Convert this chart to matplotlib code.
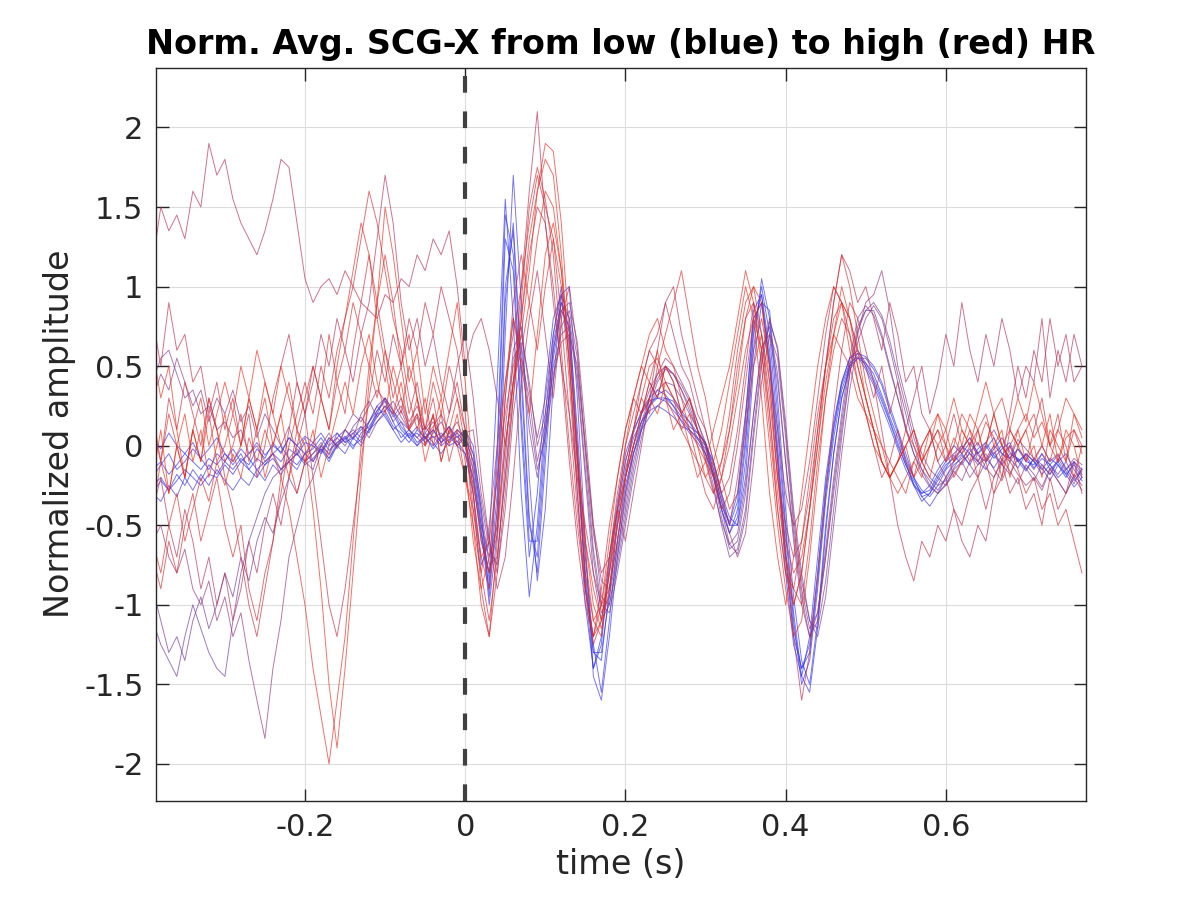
import numpy as np
import matplotlib
matplotlib.use("Agg")
import matplotlib.pyplot as plt
from matplotlib.colors import LinearSegmentedColormap

# time grid (s), 10 ms steps
t = np.round(np.arange(-0.39, 0.775, 0.01), 2)

# traces ordered from low HR (blue) to high HR (red)
b1 = [-0.15,-0.10,-0.18,-0.12,-0.05,-0.10,-0.15,-0.08,-0.12,-0.05,
      -0.10,-0.02,-0.08,-0.15,-0.10,-0.05,0.00,-0.08,-0.12,-0.05,
      -0.02,0.05,-0.03,0.02,0.06,0.00,0.04,0.10,0.18,0.25,
      0.20,0.10,0.05,0.08,0.02,0.06,0.00,0.04,0.08,0.02,
      -0.15,-0.55,-0.90,-0.10,1.30,1.10,0.10,-0.70,-0.30,0.35,
      0.80,0.95,0.55,-0.30,-1.00,-1.40,-1.20,-0.70,-0.35,-0.05,
      0.10,0.20,0.28,0.30,0.30,0.25,0.18,0.12,0.08,0.02,
      -0.15,-0.35,-0.50,-0.35,0.15,0.85,0.95,0.50,-0.10,-0.80,
      -1.25,-1.45,-1.20,-0.70,-0.20,0.15,0.40,0.55,0.58,0.50,
      0.40,0.28,0.15,0.00,-0.12,-0.22,-0.30,-0.28,-0.18,-0.10,
      -0.05,0.00,-0.05,-0.10,-0.02,0.05,-0.05,-0.08,-0.02,-0.10,
      -0.12,-0.05,-0.15,-0.10,-0.18,-0.12,-0.20]
b2 = [-0.25,-0.20,-0.28,-0.22,-0.15,-0.20,-0.25,-0.18,-0.20,-0.12,
      -0.18,-0.10,-0.15,-0.08,-0.12,-0.05,-0.10,-0.02,-0.06,0.02,
      0.00,-0.05,0.03,0.08,0.02,0.05,0.10,0.15,0.22,0.28,
      0.15,0.05,0.10,0.02,0.06,-0.02,0.05,0.00,0.03,-0.05,
      -0.30,-0.75,-0.60,0.40,1.55,0.80,-0.30,-0.95,-0.50,0.20,
      0.70,1.00,0.70,-0.10,-0.85,-1.30,-1.35,-0.90,-0.45,-0.15,
      0.05,0.15,0.22,0.25,0.30,0.28,0.20,0.15,0.05,-0.05,
      -0.20,-0.40,-0.55,-0.45,0.00,0.70,1.00,0.70,0.10,-0.55,
      -1.10,-1.50,-1.35,-0.90,-0.35,0.05,0.35,0.50,0.55,0.52,
      0.45,0.32,0.18,0.05,-0.10,-0.25,-0.35,-0.30,-0.20,-0.12,
      -0.08,-0.02,0.05,-0.05,0.00,-0.08,-0.02,0.02,-0.10,-0.05,
      -0.10,-0.15,-0.08,-0.12,-0.20,-0.10,-0.15]
b3 = [0.05,-0.02,0.08,0.00,-0.05,0.02,-0.08,-0.02,0.05,-0.05,
      -0.12,-0.05,-0.15,-0.20,-0.12,-0.08,-0.15,-0.10,-0.05,-0.12,
      -0.08,-0.02,-0.10,0.00,0.05,-0.02,0.08,0.12,0.20,0.22,
      0.12,0.08,0.02,0.10,0.05,0.00,0.06,0.12,0.05,0.10,
      0.00,-0.40,-0.95,-0.40,0.90,1.40,0.50,-0.45,-0.80,-0.10,
      0.55,0.85,0.75,0.10,-0.70,-1.25,-1.55,-1.10,-0.60,-0.25,
      -0.05,0.10,0.18,0.25,0.22,0.18,0.12,0.10,0.05,0.00,
      -0.10,-0.30,-0.45,-0.50,-0.20,0.50,0.90,0.85,0.30,-0.40,
      -0.95,-1.35,-1.50,-1.10,-0.50,-0.05,0.30,0.48,0.55,0.55,
      0.48,0.38,0.22,0.08,-0.08,-0.20,-0.28,-0.32,-0.25,-0.15,
      -0.10,-0.05,-0.12,-0.02,0.02,-0.06,-0.12,-0.05,-0.08,-0.15,
      -0.08,-0.12,-0.18,-0.10,-0.05,-0.15,-0.22]
b4 = [-0.20,-0.12,-0.05,-0.15,-0.10,-0.02,-0.08,-0.15,-0.05,-0.10,
      -0.02,-0.10,-0.05,0.02,-0.06,0.00,-0.04,0.05,0.00,-0.05,
      0.02,-0.04,0.05,0.00,0.04,0.08,0.02,0.15,0.25,0.18,
      0.10,0.02,0.08,0.00,0.05,0.10,0.02,0.06,0.00,-0.05,
      -0.20,-0.60,-0.80,0.00,1.45,1.20,0.20,-0.60,-0.60,0.10,
      0.60,0.90,0.80,0.00,-0.90,-1.40,-1.25,-0.75,-0.40,-0.10,
      0.08,0.22,0.30,0.35,0.32,0.25,0.15,0.08,0.02,-0.05,
      -0.18,-0.38,-0.48,-0.30,0.20,0.80,0.90,0.55,-0.05,-0.70,
      -1.20,-1.40,-1.30,-0.85,-0.30,0.10,0.38,0.52,0.56,0.48,
      0.38,0.25,0.12,-0.02,-0.15,-0.25,-0.30,-0.25,-0.15,-0.08,
      0.00,-0.05,0.02,-0.06,-0.10,-0.02,0.05,-0.04,-0.10,-0.06,
      -0.14,-0.08,-0.12,-0.20,-0.15,-0.10,-0.18]
b5 = [-0.30,-0.22,-0.28,-0.18,-0.25,-0.15,-0.22,-0.12,-0.18,-0.10,
      -0.15,-0.08,-0.12,-0.02,-0.08,0.02,-0.05,0.05,0.00,0.06,
      0.02,0.08,0.00,0.05,0.10,0.04,0.12,0.08,0.20,0.30,
      0.22,0.12,0.06,0.12,0.04,0.10,0.02,0.08,0.00,0.05,
      -0.10,-0.50,-1.00,-0.55,0.70,1.70,0.90,-0.20,-0.85,-0.40,
      0.40,0.95,1.00,0.30,-0.60,-1.45,-1.60,-1.20,-0.70,-0.30,
      -0.05,0.12,0.25,0.32,0.35,0.30,0.22,0.15,0.08,0.02,
      -0.12,-0.32,-0.50,-0.50,-0.10,0.60,1.05,0.80,0.20,-0.50,
      -1.05,-1.45,-1.55,-1.15,-0.55,-0.05,0.30,0.50,0.58,0.56,
      0.50,0.40,0.25,0.10,-0.05,-0.20,-0.32,-0.38,-0.30,-0.20,
      -0.12,-0.08,-0.02,-0.10,-0.15,-0.05,0.00,-0.08,-0.14,-0.05,
      -0.10,-0.18,-0.12,-0.06,-0.14,-0.22,-0.16]
b6 = [-0.30,-0.35,-0.25,-0.32,-0.20,-0.28,-0.18,-0.25,-0.15,-0.22,
      -0.28,-0.20,-0.25,-0.15,-0.22,-0.12,-0.18,-0.10,-0.15,-0.05,
      -0.10,-0.02,-0.08,0.00,-0.05,0.05,0.00,0.10,0.15,0.20,
      0.10,0.15,0.05,0.00,0.08,0.02,-0.05,0.03,0.10,0.05,
      -0.05,-0.45,-0.85,-0.30,1.00,1.35,0.40,-0.50,-0.70,0.00,
      0.65,0.90,0.65,-0.05,-0.80,-1.30,-1.30,-0.95,-0.50,-0.20,
      0.00,0.15,0.25,0.30,0.28,0.22,0.16,0.10,0.04,-0.02,
      -0.18,-0.40,-0.55,-0.40,0.05,0.75,0.95,0.60,0.00,-0.65,
      -1.15,-1.40,-1.25,-0.80,-0.25,0.12,0.40,0.55,0.60,0.52,
      0.42,0.30,0.16,0.02,-0.12,-0.24,-0.32,-0.30,-0.22,-0.14,
      -0.06,-0.12,-0.04,0.02,-0.08,-0.14,-0.06,0.00,-0.10,-0.16,
      -0.08,-0.14,-0.22,-0.12,-0.18,-0.26,-0.20]
p1 = [-1.10,-1.25,-1.35,-1.45,-1.20,-1.00,-1.15,-1.30,-1.40,-1.45,
      -1.10,-0.80,-0.60,-0.45,-0.30,-0.20,-0.15,-0.10,-0.05,-0.10,
      -0.05,0.00,-0.08,0.02,0.05,0.10,0.05,0.15,0.25,0.30,
      0.22,0.15,0.10,0.05,0.12,0.05,0.08,0.02,0.06,0.00,
      -0.20,-0.50,-0.70,-0.50,0.30,0.80,0.60,0.10,-0.20,0.10,
      0.50,0.70,0.75,0.40,-0.20,-0.80,-1.10,-1.00,-0.70,-0.40,
      -0.10,0.10,0.25,0.35,0.40,0.38,0.30,0.20,0.10,0.00,
      -0.20,-0.45,-0.65,-0.60,-0.30,0.20,0.60,0.75,0.45,-0.10,
      -0.60,-1.00,-1.20,-1.10,-0.70,-0.25,0.15,0.50,0.75,0.85,
      0.85,0.70,0.50,0.30,0.10,-0.05,-0.15,-0.25,-0.30,-0.25,
      -0.15,-0.10,-0.05,-0.12,-0.08,0.00,-0.05,-0.10,-0.02,-0.08,
      -0.15,-0.05,-0.12,-0.18,-0.10,-0.20,-0.15]
p2 = [0.40,0.55,0.60,0.45,0.30,0.35,0.20,0.25,0.10,0.15,
      0.05,0.10,-0.05,0.00,-0.10,-0.05,-0.15,-0.08,-0.02,-0.10,
      -0.05,0.02,-0.06,0.05,0.00,0.08,0.12,0.05,0.15,0.22,
      0.28,0.18,0.10,0.05,0.00,0.08,0.15,0.05,0.10,0.05,
      -0.10,-0.40,-0.75,-0.70,-0.20,0.40,0.70,0.40,0.00,0.20,
      0.60,0.85,0.90,0.65,0.10,-0.50,-0.95,-1.00,-0.75,-0.45,
      -0.15,0.10,0.30,0.45,0.50,0.45,0.35,0.25,0.10,-0.05,
      -0.25,-0.50,-0.70,-0.65,-0.40,0.10,0.55,0.80,0.60,0.10,
      -0.45,-0.85,-1.10,-1.20,-0.95,-0.50,-0.05,0.35,0.65,0.80,
      0.88,0.80,0.62,0.40,0.20,0.00,-0.15,-0.22,-0.28,-0.20,
      -0.10,-0.02,0.05,-0.05,0.02,0.10,0.00,-0.08,0.04,-0.02,
      -0.08,0.00,-0.10,-0.05,-0.15,-0.08,-0.12]
p3 = [-0.60,-0.50,-0.70,-0.80,-0.65,-0.90,-1.00,-0.85,-1.10,-0.95,
      -1.20,-1.05,-1.35,-1.60,-1.84,-1.40,-1.10,-0.70,-0.50,-0.30,
      -0.20,-0.05,0.05,0.00,0.10,0.20,0.15,0.25,0.35,0.28,
      0.20,0.30,0.15,0.25,0.10,0.18,0.05,0.12,0.00,0.08,
      0.10,-0.30,-0.60,-0.80,-0.40,0.20,0.55,0.30,-0.10,0.15,
      0.45,0.65,0.70,0.50,0.00,-0.55,-0.85,-0.90,-0.60,-0.30,
      0.00,0.20,0.35,0.45,0.55,0.50,0.40,0.30,0.15,0.00,
      -0.15,-0.35,-0.55,-0.70,-0.55,-0.10,0.40,0.70,0.55,0.05,
      -0.50,-0.90,-1.15,-1.05,-0.70,-0.30,0.10,0.45,0.70,0.90,
      0.95,1.10,0.85,0.50,0.30,0.10,-0.05,-0.15,-0.20,-0.25,
      -0.18,-0.10,-0.20,-0.12,-0.05,-0.15,-0.22,-0.10,-0.18,-0.25,
      -0.20,-0.28,-0.15,-0.22,-0.30,-0.18,-0.25]
p4 = [-0.90,-1.10,-1.30,-1.20,-1.35,-1.10,-0.95,-1.15,-1.00,-0.80,
      -0.95,-0.70,-0.85,-0.60,-0.45,-0.55,-0.35,-0.20,-0.30,-0.10,
      -0.15,0.00,-0.05,0.08,0.02,0.12,0.18,0.10,0.22,0.30,
      0.18,0.25,0.12,0.20,0.08,0.15,0.05,0.12,0.02,0.10,
      -0.05,-0.35,-0.65,-0.75,-0.10,0.55,0.65,0.20,-0.15,0.05,
      0.40,0.75,0.85,0.55,-0.05,-0.65,-1.00,-1.05,-0.80,-0.50,
      -0.20,0.05,0.25,0.40,0.48,0.45,0.38,0.28,0.15,0.02,
      -0.18,-0.40,-0.62,-0.68,-0.45,0.05,0.50,0.78,0.62,0.15,
      -0.40,-0.80,-1.10,-1.15,-0.85,-0.40,0.05,0.45,0.72,0.85,
      0.90,0.82,0.66,0.45,0.25,0.05,-0.10,-0.20,-0.25,-0.22,
      -0.14,-0.06,-0.12,-0.20,-0.10,-0.04,-0.12,-0.18,-0.08,-0.14,
      -0.22,-0.12,-0.18,-0.08,-0.16,-0.24,-0.14]
p5 = [0.30,0.45,0.35,0.55,0.40,0.25,0.35,0.15,0.30,0.20,
      0.35,0.15,0.25,0.05,0.20,0.10,0.00,0.12,-0.05,0.05,
      -0.10,0.00,0.08,-0.02,0.10,0.05,0.20,0.28,0.18,0.25,
      0.15,0.22,0.10,0.18,0.05,0.12,0.20,0.08,0.15,0.02,
      -0.25,-0.55,-0.80,-0.55,0.10,0.60,0.75,0.35,0.05,0.30,
      0.70,0.95,0.80,0.45,-0.15,-0.70,-1.05,-0.95,-0.65,-0.35,
      -0.05,0.15,0.30,0.42,0.50,0.45,0.35,0.22,0.10,-0.08,
      -0.28,-0.48,-0.62,-0.55,-0.25,0.20,0.62,0.70,0.40,-0.10,
      -0.55,-0.95,-1.20,-1.05,-0.65,-0.20,0.20,0.55,0.80,0.88,
      0.82,0.68,0.48,0.30,0.12,-0.05,-0.18,-0.26,-0.30,-0.24,
      -0.16,-0.22,-0.10,-0.04,-0.14,-0.20,-0.08,-0.16,-0.24,-0.12,
      -0.18,-0.26,-0.14,-0.22,-0.30,-0.20,-0.28]
r1 = [1.15,1.50,1.35,1.45,1.30,1.60,1.50,1.90,1.70,1.80,
      1.55,1.40,1.30,1.20,1.35,1.55,1.80,1.75,1.40,1.05,
      0.90,1.00,1.05,0.95,1.10,1.00,0.90,0.85,0.80,0.95,
      0.90,1.05,1.00,1.20,1.10,1.30,1.20,1.35,1.00,0.50,
      0.70,0.80,0.60,0.30,0.00,0.40,1.00,1.60,2.10,1.40,
      0.90,0.50,0.20,-0.20,-0.50,-0.80,-1.00,-0.90,-0.60,-0.20,
      0.10,0.40,0.60,0.70,0.90,1.00,0.70,0.50,0.30,0.10,
      -0.10,-0.30,-0.20,0.10,0.50,0.90,0.70,0.30,-0.20,-0.50,
      -0.70,-0.60,-0.30,0.10,0.50,0.90,1.20,1.10,0.90,1.00,
      0.80,0.60,0.90,0.70,0.40,0.50,0.20,0.10,-0.10,-0.20,
      -0.40,-0.60,-0.70,-0.50,-0.60,-0.30,-0.10,0.20,0.50,0.30,
      0.60,0.40,0.80,0.50,0.70,0.40,0.50]
r2 = [-0.60,-0.80,-0.50,-0.30,-0.60,-0.40,-0.20,-0.35,-0.10,-0.25,
      -0.05,-0.20,0.05,-0.10,0.10,-0.05,-0.20,-0.40,-0.70,-1.00,
      -1.40,-1.70,-2.00,-1.60,-1.20,-0.60,0.00,0.50,0.90,1.20,
      0.90,0.50,0.70,0.30,0.10,0.40,0.20,-0.10,0.10,-0.20,
      -0.40,-0.70,-0.60,-0.20,0.20,0.50,0.70,1.10,1.60,1.90,
      1.85,1.40,0.70,-0.10,-0.70,-1.10,-1.20,-0.80,-0.40,-0.10,
      0.10,0.30,0.50,0.55,0.40,0.30,0.20,0.30,0.10,-0.10,
      -0.30,-0.20,0.00,0.30,0.60,0.80,0.60,0.20,-0.40,-0.80,
      -0.90,-0.60,-0.20,0.20,0.50,0.70,0.60,0.50,0.30,0.20,
      0.00,-0.10,-0.20,-0.30,-0.20,-0.10,0.00,0.10,0.00,-0.10,
      0.05,-0.05,0.10,0.00,0.15,0.05,-0.10,0.00,0.10,0.20,
      0.05,0.15,0.00,-0.10,0.05,0.10,-0.05]
r3 = [0.60,0.30,0.50,0.10,-0.20,0.10,0.30,0.00,0.20,0.40,
      0.20,0.50,0.30,0.60,0.40,0.20,0.50,0.30,0.10,0.00,
      -0.40,-0.90,-1.50,-1.90,-1.40,-0.80,-0.20,0.40,0.90,1.50,
      1.20,0.80,0.40,0.60,0.20,0.50,0.30,0.60,0.90,0.40,
      -0.20,-0.60,-0.80,-0.50,0.00,0.40,0.80,1.30,1.60,1.80,
      1.70,1.20,0.50,-0.20,-0.80,-1.10,-1.00,-0.60,-0.20,0.10,
      0.30,0.50,0.70,0.80,0.60,0.50,0.30,0.10,0.00,-0.20,
      -0.10,0.10,0.40,0.70,1.00,0.80,0.30,-0.30,-0.70,-1.00,
      -0.70,-0.30,0.10,0.50,0.80,1.00,0.90,0.60,0.40,0.20,
      0.10,-0.10,-0.20,-0.10,0.00,0.10,-0.10,0.00,0.20,0.10,
      0.30,0.10,0.00,0.20,0.40,0.20,0.00,0.10,0.30,0.15,
      0.40,0.20,0.00,0.10,0.30,0.20,0.05]
r4 = [-0.70,-0.90,-0.60,-0.80,-0.50,-0.30,-0.60,-0.40,-0.20,-0.50,
      -0.70,-0.50,-0.90,-1.10,-0.80,-0.60,-0.30,0.00,0.20,0.40,
      0.20,0.50,0.30,0.60,0.80,1.00,1.30,1.60,1.40,1.10,
      0.80,0.60,0.30,0.10,0.30,0.00,0.20,0.50,0.30,0.10,
      -0.50,-0.80,-1.10,-0.70,-0.20,0.30,0.90,1.50,1.75,1.55,
      1.20,0.60,0.00,-0.50,-0.90,-1.20,-1.00,-0.70,-0.30,0.00,
      0.20,0.40,0.60,0.50,0.30,0.20,0.10,0.00,-0.10,-0.20,
      -0.30,-0.10,0.20,0.60,0.90,1.00,0.70,0.20,-0.30,-0.70,
      -0.90,-1.00,-0.60,-0.10,0.30,0.60,0.80,0.70,0.50,0.30,
      0.10,-0.10,-0.20,-0.10,0.00,-0.20,-0.10,0.00,0.10,0.00,
      -0.20,-0.10,0.00,0.10,-0.10,-0.30,-0.20,0.00,-0.15,-0.30,
      -0.20,-0.40,-0.30,-0.50,-0.40,-0.60,-0.80]
r5 = [0.10,-0.10,0.20,0.00,-0.20,0.10,-0.10,0.30,0.10,-0.10,
      0.00,0.20,-0.10,0.10,0.30,0.00,0.20,0.40,0.10,0.30,
      0.50,0.30,0.70,0.40,0.60,0.90,0.70,0.50,0.30,0.60,
      0.40,0.20,0.50,0.30,0.00,0.20,-0.10,0.10,0.30,0.00,
      -0.30,-0.70,-0.90,-0.40,0.30,0.90,1.20,0.90,0.60,1.00,
      1.30,1.00,0.40,-0.30,-0.90,-1.25,-1.10,-0.70,-0.40,-0.20,
      0.10,0.30,0.20,0.50,0.70,0.90,1.10,0.80,0.50,0.30,
      0.00,-0.20,-0.40,-0.30,0.10,0.50,0.70,0.40,-0.20,-0.60,
      -0.80,-0.70,-0.40,0.00,0.50,0.90,1.20,1.00,0.70,0.40,
      0.20,0.00,-0.10,-0.20,-0.30,-0.10,-0.20,0.00,0.10,-0.10,
      0.00,0.20,0.10,-0.10,0.00,0.20,0.30,0.10,0.00,0.10,
      0.20,0.00,-0.10,0.10,0.00,-0.20,0.00]
r6 = [0.80,0.50,0.90,0.60,0.70,0.40,0.50,0.20,0.40,0.10,
      0.30,0.00,0.20,-0.20,0.00,0.30,0.50,0.70,0.40,0.20,
      -0.20,-0.60,-1.00,-1.20,-0.90,-0.50,-0.10,0.30,0.60,0.40,
      0.70,0.50,0.80,0.60,0.90,0.70,1.00,0.80,0.60,0.20,
      -0.30,-0.90,-1.20,-0.80,-0.30,0.30,0.80,1.20,1.50,1.40,
      1.00,0.50,-0.10,-0.60,-1.00,-1.20,-0.90,-0.50,-0.20,0.10,
      0.30,0.20,0.40,0.30,0.50,0.40,0.20,0.30,0.10,0.00,
      -0.20,-0.40,-0.30,0.00,0.40,0.80,0.90,0.50,-0.10,-0.70,
      -1.20,-1.60,-1.30,-0.80,-0.30,0.20,0.60,0.90,0.80,0.60,
      0.40,0.10,-0.20,-0.50,-0.70,-0.85,-0.60,-0.70,-0.50,-0.60,
      -0.40,-0.50,-0.30,-0.20,-0.40,-0.20,-0.10,-0.30,-0.20,-0.40,
      -0.30,-0.50,-0.20,-0.40,-0.30,-0.10,-0.30]
r7 = [-0.20,0.10,-0.30,0.00,0.20,-0.10,0.10,-0.20,0.00,0.20,
      -0.10,0.00,0.30,0.10,-0.20,0.00,0.20,-0.10,-0.30,-0.10,
      0.10,-0.20,0.00,0.20,0.40,0.20,0.50,0.70,0.40,0.20,
      0.50,0.30,0.10,0.20,-0.10,0.10,0.30,0.00,0.20,-0.10,
      -0.60,-0.90,-0.70,-0.20,0.40,0.80,0.50,0.20,0.70,1.20,
      1.40,1.10,0.60,0.00,-0.60,-1.00,-1.15,-0.90,-0.50,-0.20,
      0.00,0.20,0.30,0.20,0.40,0.30,0.10,0.20,0.00,-0.10,
      -0.20,-0.10,0.10,0.40,0.80,1.00,0.90,0.40,-0.20,-0.70,
      -1.00,-0.80,-0.40,0.00,0.40,0.70,0.90,0.80,0.60,0.30,
      0.10,-0.10,-0.20,-0.10,0.00,0.10,-0.10,-0.20,0.00,0.10,
      -0.10,0.00,0.20,0.10,-0.10,0.00,0.10,-0.20,0.00,0.10,
      -0.10,0.00,0.20,-0.10,0.10,0.00,-0.20]
r8 = [-0.40,-0.20,-0.50,-0.70,-0.40,-0.60,-0.90,-0.70,-1.00,-0.80,
      -1.10,-0.90,-0.60,-0.80,-0.50,-0.30,-0.50,-0.20,0.00,0.20,
      0.40,0.70,0.50,0.80,0.60,0.40,0.70,0.90,1.30,1.70,
      1.40,0.90,0.60,0.80,0.50,0.70,0.40,0.20,0.50,0.70,
      0.30,-0.20,-0.60,-0.90,-0.70,-0.20,0.40,0.80,1.10,0.70,
      0.30,0.80,1.00,0.60,0.00,-0.50,-0.80,-0.70,-0.40,-0.60,
      -0.30,0.00,0.30,0.60,0.90,0.70,0.50,0.40,0.20,0.10,
      -0.10,-0.30,-0.50,-0.20,0.20,0.60,0.80,0.50,0.10,-0.30,
      -0.50,-0.40,-0.10,0.30,0.70,1.00,0.90,0.80,0.60,0.50,
      0.30,0.50,0.20,0.40,0.10,0.30,0.50,0.20,0.40,0.70,
      0.50,0.90,0.60,0.40,0.70,0.50,0.80,0.60,0.30,0.50,
      0.40,0.80,0.30,0.60,0.40,0.70,0.50]
r9 = [0.20,-0.10,0.30,0.10,0.40,0.20,0.00,0.30,0.10,-0.20,
      -0.40,-0.70,-1.00,-1.20,-0.90,-0.60,-0.20,0.10,0.40,0.20,
      0.50,0.30,0.10,0.40,0.20,0.60,0.90,1.20,0.90,0.60,
      0.30,0.50,0.20,0.40,0.10,0.30,0.00,0.20,0.40,0.10,
      -0.40,-0.80,-0.50,0.00,0.40,0.70,1.00,1.40,1.70,1.50,
      1.30,0.80,0.20,-0.40,-0.90,-1.20,-1.10,-0.80,-0.50,-0.20,
      0.00,0.20,0.40,0.30,0.50,0.40,0.20,0.10,-0.10,-0.30,
      -0.40,-0.20,0.10,0.50,0.80,0.90,0.60,0.10,-0.40,-0.80,
      -1.00,-0.80,-0.40,0.10,0.50,0.80,0.90,0.70,0.40,0.20,
      0.00,-0.20,-0.10,0.10,-0.10,-0.20,0.00,0.10,-0.10,0.00,
      0.20,0.00,-0.10,0.10,0.20,0.00,-0.20,0.10,0.00,-0.10,
      0.10,0.30,0.00,0.20,-0.10,0.10,0.00]
r10 = [-0.40,-0.10,-0.30,0.00,-0.20,0.10,-0.10,0.20,-0.10,0.00,
       0.20,0.00,0.30,0.10,0.40,0.20,0.00,-0.20,0.10,-0.10,
       0.00,0.30,0.10,0.50,0.80,1.10,1.40,1.20,0.80,0.50,
       0.20,0.40,0.10,0.30,0.00,0.20,-0.10,0.10,0.00,-0.20,
       -0.50,-1.00,-1.20,-0.60,0.00,0.40,0.60,0.90,1.30,1.60,
       1.50,1.10,0.50,-0.10,-0.60,-0.90,-1.10,-0.80,-0.40,0.00,
       0.30,0.50,0.40,0.60,0.30,0.10,0.20,0.00,-0.20,-0.10,
       0.10,0.30,0.50,0.80,1.10,0.90,0.50,0.00,-0.50,-0.90,
       -1.20,-1.10,-0.70,-0.20,0.30,0.70,1.00,0.80,0.50,0.30,
       0.10,0.00,-0.20,-0.10,0.10,0.00,-0.10,0.10,0.20,0.00,
       -0.10,0.10,0.00,-0.20,0.00,0.20,0.00,-0.10,0.10,-0.10,
       0.00,-0.20,0.10,0.00,-0.10,0.20,0.10]

traces = [b1, b2, b3, b4, b5, b6, p1, p4, p2, p5, p3,
          r8, r1, r6, r9, r4, r5, r2, r10, r3, r7]
# relative HR rank (0 = lowest / blue, 1 = highest / red)
hr_rank = [0.0, 0.03, 0.06, 0.09, 0.12, 0.16, 0.42, 0.46, 0.5, 0.54, 0.58,
           0.68, 0.7, 0.74, 0.78, 0.82, 0.86, 0.9, 0.93, 0.96, 1.0]

title = "Norm. Avg. SCG-X from low (blue) to high (red) HR"
xlabel = "time (s)"
ylabel = "Normalized amplitude"
xticks = [-0.2, 0, 0.2, 0.4, 0.6]
xticklabels = ["-0.2", "0", "0.2", "0.4", "0.6"]
yticks = [-2, -1.5, -1, -0.5, 0, 0.5, 1, 1.5, 2]
yticklabels = ["-2", "-1.5", "-1", "-0.5", "0", "0.5", "1", "1.5", "2"]

cmap = LinearSegmentedColormap.from_list(
    "hr", [(0.0, "#1f2dff"), (0.5, "#7a3590"), (0.75, "#c4283e"), (1.0, "#f02a12")])

fig = plt.figure(figsize=(12, 9), dpi=100)
ax = fig.add_axes([0.13, 0.11, 0.775, 0.815])

for y, r in zip(traces, hr_rank):
    ax.plot(t, y, color=cmap(r), lw=0.7, alpha=0.65)

ax.axvline(0, color="#404040", lw=3, linestyle=(0, (4, 4.5)), zorder=5)

ax.set_xlim(-0.386, 0.775)
ax.set_ylim(-2.233, 2.377)
ax.set_xticks(xticks)
ax.set_xticklabels(xticklabels)
ax.set_yticks(yticks)
ax.set_yticklabels(yticklabels)
ax.grid(True, color="#dcdcdc", lw=0.8)
ax.set_axisbelow(True)
ax.tick_params(direction="in", length=9, width=1, top=True, right=True,
               labelsize=22, colors="#262626", pad=9)
for s in ax.spines.values():
    s.set_color("#262626")
    s.set_linewidth(1)

ax.set_title(title, fontsize=24, fontweight="bold", pad=10)
ax.set_xlabel(xlabel, fontsize=24, color="#262626", labelpad=4)
ax.set_ylabel(ylabel, fontsize=24, color="#262626", labelpad=6)

fig.savefig("out.png", dpi=100)
